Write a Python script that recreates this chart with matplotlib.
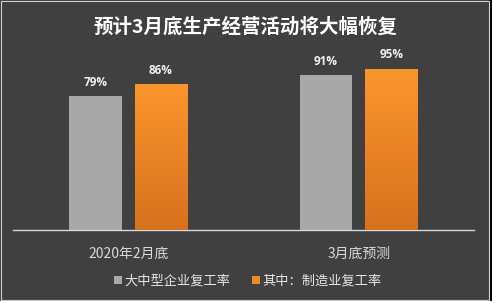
import matplotlib
matplotlib.use("Agg")
import matplotlib.pyplot as plt
import numpy as np
from matplotlib.patches import Rectangle, Patch
from matplotlib.colors import LinearSegmentedColormap

plt.rcParams['font.family'] = ['Noto Sans CJK SC', 'DejaVu Sans']

title = "预计3月底生产经营活动将大幅恢复"
categories = ["2020年2月底", "3月底预测"]
series_names = ["大中型企业复工率", "其中：制造业复工率"]
large_mid = [79, 91]
manufacturing = [86, 95]

W, H = 492, 301
fig = plt.figure(figsize=(W / 100, H / 100), dpi=100)
bg = "#404040"
fig.patch.set_facecolor(bg)

# axes: x from 13 to 474 px, y from 230 (0%) to 60 (100%)
ax = fig.add_axes([13 / W, 1 - 230 / H, (474 - 13) / W, (230 - 60) / H])
ax.set_facecolor(bg)

x = np.arange(len(categories))
off = 0.142
bw = 0.228

gray_bars = ax.bar(x - off, large_mid, bw, color="#a8a8a8", zorder=2)
orange_bars = ax.bar(x + off, manufacturing, bw, color="#ee8a26", zorder=2)

# gradient for orange bars
grad = np.linspace(0, 1, 256).reshape(-1, 1)
cmap = LinearSegmentedColormap.from_list("og", ["#d8711d", "#fb962d"])
for b in orange_bars:
    x0, y0 = b.get_x(), b.get_y()
    im = ax.imshow(grad, cmap=cmap, origin="lower", aspect="auto",
                   extent=[x0, x0 + b.get_width(), y0, y0 + b.get_height()], zorder=3)
    im.set_clip_path(b)
ax.set_xlim(-0.5, 1.5)
ax.set_ylim(0, 100)

for bars, vals in [(gray_bars, large_mid), (orange_bars, manufacturing)]:
    for b, v in zip(bars, vals):
        ax.text(b.get_x() + b.get_width() / 2, v + 4.2, f"{v}%", ha="center", va="bottom",
                color="#f0f0f0", fontsize=8.5, fontweight="bold", family=['Open Sans', 'DejaVu Sans'])

for s in ["top", "right", "left"]:
    ax.spines[s].set_visible(False)
ax.spines["bottom"].set_color("#d9d9d9")
ax.spines["bottom"].set_linewidth(1.0)
ax.set_yticks([])
ax.set_xticks(x)
ax.set_xticklabels(categories, color="#d9d9d9", fontsize=10)
ax.tick_params(axis="x", length=0, pad=12)

fig.text(246 / W, 1 - 27 / H, title, ha="center", va="center", color="white",
         fontsize=14, fontweight="bold")

# legend
handles = [Patch(facecolor="#a8a8a8"), Patch(facecolor="#ee8a26")]
leg = fig.legend(handles, series_names, loc="center", bbox_to_anchor=(248 / W, 1 - 281 / H),
                 ncol=2, frameon=False, fontsize=9.5, handlelength=0.6, handleheight=0.6,
                 handletextpad=0.2, columnspacing=1.6, labelcolor="#e6e6e6")

# frame
fig.patches.append(Rectangle((489 / W, 0), 3 / W, 1, transform=fig.transFigure,
                             facecolor="black", edgecolor="none", zorder=10))
fig.patches.append(Rectangle((0.5 / W, 1.5 / H), 488 / W, 1 - 2.5 / H, transform=fig.transFigure,
                             facecolor="none", edgecolor="#cfcfcf", linewidth=0.8, zorder=11))

fig.savefig("out.png", dpi=100, facecolor=fig.get_facecolor())
